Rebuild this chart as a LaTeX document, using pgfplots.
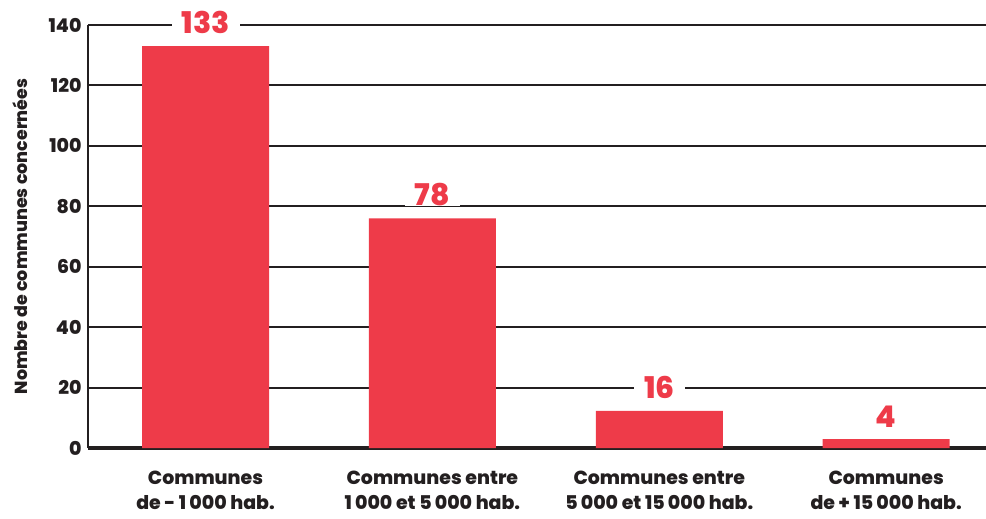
\documentclass[border=0pt]{standalone}
\usepackage{pgfplots}
\pgfplotsset{compat=1.18}
\usepackage{fontspec}
\setmainfont{Poppins}[BoldFont={* ExtraBold}]
\definecolor{barred}{HTML}{EE3B49}
\definecolor{ink}{HTML}{231F20}

\begin{document}
\begin{tikzpicture}
\path[use as bounding box] (-88bp,-71bp) rectangle (898bp,448bp);
\begin{axis}[
    at={(0,0)}, anchor=south west,
    scale only axis, width=898bp, height=423bp,
    xmin=-0.518, xmax=3.44,
    ymin=0, ymax=140,
    ytick={0,20,...,140},
    xtick={0,1,2,3},
    xticklabels={{Communes\\de - 1\,000 hab.},{Communes entre\\1\,000 et 5\,000 hab.},{Communes entre\\5\,000 et 15\,000 hab.},{Communes\\de + 15\,000 hab.}},
    axis lines=left, separate axis lines,
    axis line style={-},
    x axis line style={line width=3bp, ink},
    y axis line style={line width=2bp, ink},
    ymajorgrids, grid style={line width=2bp, ink},
    major tick length=0pt,
    /pgf/number format/assume math mode=true,
    tick label style={font=\fontsize{19}{25}\selectfont\bfseries, text=ink},
    yticklabel style={xshift=-3bp},
    xticklabel style={align=center, anchor=north, yshift=-22bp, inner ysep=1bp},
    ylabel={Nombre de communes concernées},
    ylabel style={at={(axis description cs:-0.0757,0.5)}, anchor=center, font=\fontsize{17.5}{20}\selectfont\bfseries, text=ink},
    ybar, bar width=127bp, bar shift=0pt,
    clip=false,
    nodes near coords, point meta=explicit symbolic,
    every node near coord/.append style={font=\fontsize{30}{30}\selectfont\bfseries, text=barred, fill=white, inner xsep=10bp, inner ysep=0bp, yshift=12bp},
]
\addplot[fill=barred, draw=none]
    coordinates { (0,133) [133] (1,76) [78] (2,12.3) [16] (3,2.9) [4] };
\end{axis}
\end{tikzpicture}
\end{document}
